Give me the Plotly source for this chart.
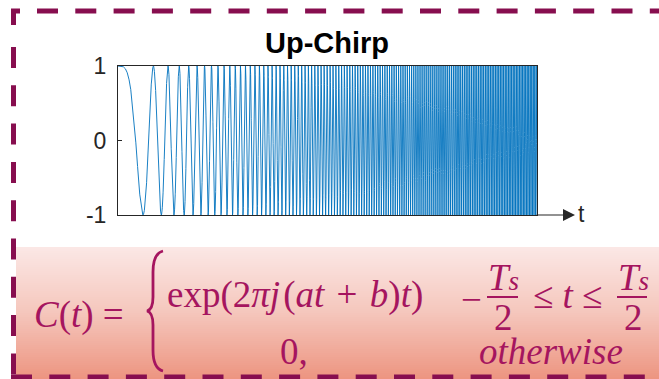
import numpy as np
import plotly.graph_objects as go

# ---- data ----
T_START = 0.0          # start of the sweep (axis units)
T_END = 1.0            # end of the sweep
F_START = 0.0          # instantaneous frequency at start (cycles / unit)
F_END = 281.0          # instantaneous frequency at end (cycles / unit)
N_SAMPLES = 30000
Y_TICKS = [-1, 0, 1]
Y_TICK_LABELS = ["-1", "0", "1"]
TITLE = "Up-Chirp"
X_LABEL = "t"

t = np.linspace(T_START, T_END, N_SAMPLES)
rate = (F_END - F_START) / (T_END - T_START)
signal = np.cos(2 * np.pi * (F_START * t + 0.5 * rate * t ** 2))

W, H = 659, 379
def px(x):
    return x / W
def py(y):
    return 1 - y / H

MAROON = "#870E4F"
TEXTC = "#A5155F"
AXC = "#262626"
SERIF = "Liberation Serif"

fig = go.Figure()
fig.add_trace(go.Scatter(x=t, y=signal, mode="lines",
                         line=dict(color="#0072BD", width=0.9),
                         hoverinfo="skip", showlegend=False))

shapes = []
# pink gradient box
top_c = np.array([0xFB, 0xE7, 0xE5])
mid_c = np.array([0xF5, 0xC6, 0xBC])
bot_c = np.array([0xED, 0x95, 0x81])
y0, y1 = 247, 379
n = 66
for i in range(n):
    a = i / (n - 1)
    if a < 0.5:
        c = top_c + (mid_c - top_c) * (a / 0.5)
    else:
        c = mid_c + (bot_c - mid_c) * ((a - 0.5) / 0.5)
    c = c.round().astype(int)
    ya = y0 + (y1 - y0) * i / n
    yb = min(y0 + (y1 - y0) * (i + 1) / n + 0.6, H)
    shapes.append(dict(type="rect", xref="paper", yref="paper", layer="below",
                       x0=px(16), x1=1, y0=py(ya), y1=py(yb),
                       line=dict(width=0), fillcolor=f"rgb({c[0]},{c[1]},{c[2]})"))

# dashed border
dash = "21px,17.3px"
shapes.append(dict(type="line", xref="paper", yref="paper", x0=px(37), x1=1,
                   y0=py(11), y1=py(11), line=dict(color=MAROON, width=5, dash=dash)))
shapes.append(dict(type="line", xref="paper", yref="paper", x0=px(13.5), x1=px(13.5),
                   y0=py(47), y1=0, line=dict(color=MAROON, width=5, dash=dash)))
shapes.append(dict(type="line", xref="paper", yref="paper", x0=px(11), x1=1,
                   y0=py(377), y1=py(377), line=dict(color=MAROON, width=5, dash=dash)))
shapes.append(dict(type="path", xref="paper", yref="paper",
                   path=f"M {px(13.5)} {py(25)} L {px(13.5)} {py(11)} L {px(20)} {py(11)}",
                   line=dict(color=MAROON, width=5)))

# brace
pts = [("M", [(163, 251)]),
       ("C", [(155, 253), (153, 262), (153, 272)]),
       ("L", [(153, 297)]),
       ("C", [(153, 306), (151, 310), (147, 311)]),
       ("C", [(151, 312), (153, 316), (153, 325)]),
       ("L", [(153, 350)]),
       ("C", [(153, 360), (155, 369), (163, 371)])]
path = " ".join(cmd + " " + " ".join(f"{px(x):.5f},{py(y):.5f}" for x, y in p) for cmd, p in pts)
shapes.append(dict(type="path", xref="paper", yref="paper", path=path,
                   line=dict(color=TEXTC, width=2.8)))
# fraction bars
for xa, xb in [(487, 518), (617, 647)]:
    shapes.append(dict(type="line", xref="paper", yref="paper", x0=px(xa), x1=px(xb),
                       y0=py(297), y1=py(297), line=dict(color=TEXTC, width=2)))

ann = []
def A(text, x, y, size=37, xanchor="center", font=SERIF, color=TEXTC, **kw):
    ann.append(dict(text=text, x=px(x), y=py(y), xref="paper", yref="paper",
                    xanchor=xanchor, yanchor="middle", showarrow=False,
                    font=dict(family=font, size=size, color=color), **kw))

TS = "<i>T<span style='font-size:27px'>s</span></i>"
A(f"<b>{TITLE}</b>", 327, 43, size=29, font="Liberation Sans", color="#000000")
A(X_LABEL, 581, 214, size=23, font="Liberation Sans", color=AXC)
A("<i>C</i>(<i>t</i>) =", 32, 315, xanchor="left")
A("exp(2<i>πj</i>\u200a(<i>at</i>\u2004+\u2004<i>b</i>)<i>t</i>)", 165, 295, xanchor="left")
A("−", 471, 299)
A(TS, 503, 277.5)
A("2", 503, 317, height=30, borderpad=0)
A("≤ <i>t</i> ≤", 567, 295)
A(TS, 633, 277.5)
A("2", 633, 317, height=30, borderpad=0)
A("0,", 294, 351)
A("<i>otherwise</i>", 551, 351, height=30, borderpad=0)

# axis arrow
ann.append(dict(text="", x=px(575), y=py(215), xref="paper", yref="paper",
                ax=-40, ay=0, axref="pixel", ayref="pixel", showarrow=True,
                arrowhead=2, arrowsize=2.0, arrowwidth=1.2, arrowcolor=AXC))

fig.update_layout(
    template="none",
    width=W, height=H, autosize=False,
    margin=dict(l=0, r=0, t=0, b=0, pad=0, autoexpand=False),
    paper_bgcolor="white", plot_bgcolor="white",
    showlegend=False,
    shapes=shapes, annotations=ann,
    xaxis=dict(domain=[px(118), px(537)], range=[T_START, T_END], automargin=False,
               showline=True, mirror=True, linecolor=AXC, linewidth=1,
               showgrid=False, zeroline=False, showticklabels=False, ticks=""),
    yaxis=dict(domain=[py(215), py(66)], range=[-1, 1], automargin=False,
               tickvals=Y_TICKS, ticktext=Y_TICK_LABELS,
               ticks="inside", ticklen=4, tickcolor=AXC,
               tickfont=dict(family="Liberation Sans", size=23, color=AXC),
               ticklabelstandoff=6,
               showline=True, mirror=True, linecolor=AXC, linewidth=1,
               showgrid=False, zeroline=False),
)

fig.write_html("out.html", config={"displayModeBar": False},
               post_script="document.body.style.margin='0';")
